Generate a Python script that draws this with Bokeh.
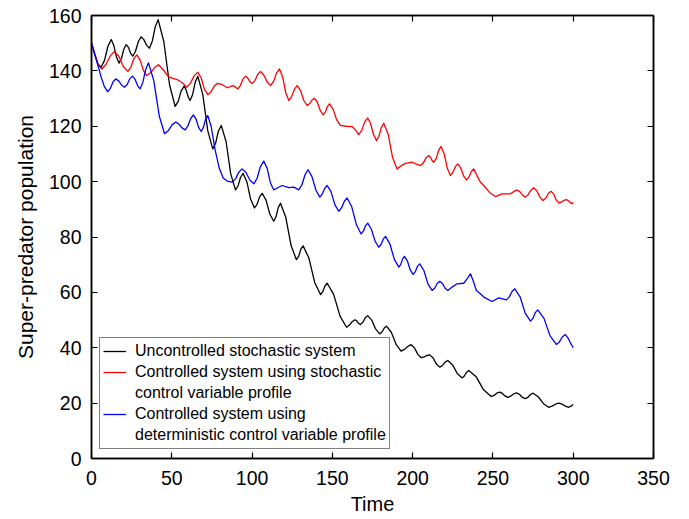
from bokeh.plotting import figure
from bokeh.models import Range1d, LinearAxis, Legend, LegendItem, FixedTicker, ColumnDataSource
from bokeh.embed import file_html
from bokeh.resources import INLINE

# Super-predator population over time for the three simulated systems
uncontrolled_t = [0, 2, 4, 6, 8.1, 10.2, 12.3, 13.9, 15.6, 17.2, 18.7, 20.1, 21.6,
                  23, 24.3, 25.7, 27.4, 29.2, 30.9, 32.6, 34.4, 36.1, 37.9, 39.7, 41.5,
                  45, 48.6, 52.1, 54, 55.8, 57.7, 58.9, 60.2, 61.4, 63, 64.6, 66.2,
                  69.3, 72.4, 75.5, 77.3, 79, 80.8, 83.8, 86.7, 89.7, 91.3, 92.8, 94.4,
                  96.8, 99.1, 101.5, 103.1, 104.7, 106.3, 108.7, 111.1, 113.5, 114.9, 116.3, 117.7,
                  121, 124.3, 127.6, 129, 130.4, 131.8, 135.4, 139, 142.6, 144, 145.4, 146.8,
                  150.8, 154.8, 158.8, 160.5, 162.3, 164, 165.2, 166.3, 167.5, 169, 170.5, 172,
                  174.5, 177, 179.5, 180.9, 182.3, 183.7, 186.7, 189.8, 192.8, 194.9, 197, 199.1,
                  201.2, 203.2, 205.3, 207.1, 208.9, 210.7, 212.8, 214.8, 216.9, 218.6, 220.2, 221.9,
                  224.9, 227.8, 230.8, 232.2, 233.5, 234.9, 239.6, 244.2, 248.9, 250.7, 252.4, 254.2,
                  255.9, 257.5, 259.2, 261, 262.8, 264.6, 266.5, 268.3, 270.2, 271.8, 273.4, 275,
                  278.2, 281.5, 284.7, 286.8, 288.9, 291, 293.1, 295.1, 297.2, 298.6, 300]
uncontrolled_v = [150, 146, 142.5, 141.3, 143.8, 148.8, 151.3, 149.2, 144.9, 142.8, 144.5, 147.8, 149.5,
                  148.5, 146.4, 145.3, 147.1, 150.6, 152.3, 151.3, 149.2, 148.2, 150.8, 155.9, 158.5,
                  150.7, 135, 127.2, 129, 132.7, 134.5, 133.2, 130.6, 129.3, 131.5, 135.9, 138.1,
                  131.5, 118.4, 111.8, 113.9, 118.2, 120.3, 114.5, 102.8, 97, 98.5, 101.5, 103,
                  99.9, 93.6, 90.5, 91.8, 94.5, 95.8, 93.3, 88.2, 85.7, 87.3, 90.6, 92.2,
                  87.1, 76.9, 71.8, 73, 75.6, 76.8, 72.4, 63.6, 59.2, 60.2, 62.3, 63.3,
                  59.3, 51.4, 47.4, 48.1, 49.4, 50.1, 49.7, 48.8, 48.4, 49.2, 50.8, 51.6,
                  50, 46.7, 45, 45.7, 47.1, 47.8, 45.6, 41.1, 38.8, 39.4, 40.5, 41.1,
                  39.9, 37.6, 36.4, 36.7, 37.2, 37.4, 36.3, 34.1, 33, 33.6, 34.8, 35.4,
                  33.8, 30.7, 29.1, 29.8, 31.1, 31.8, 29.5, 24.8, 22.4, 22.8, 23.6, 24,
                  23.5, 22.6, 22.1, 22.5, 23.3, 23.7, 23.2, 22.1, 21.6, 22.1, 23.1, 23.6,
                  22.3, 19.8, 18.5, 18.9, 19.6, 20, 19.6, 18.9, 18.5, 18.9, 19.5]

stochastic_t = [0, 2.1, 4.3, 6.4, 9, 11.7, 14.3, 17.1, 19.8, 22.6, 24.5, 26.3, 28.2,
                30.3, 32.3, 34.4, 36.8, 39.3, 41.7, 44.5, 47.9, 51, 53.5, 56.1, 59.3,
                61.6, 63.9, 66.2, 68.3, 70.3, 72.4, 74.4, 76.5, 78.5, 81.5, 84.5, 88.2, 91.1,
                92.7, 94.3, 95.9, 97.3, 98.7, 100.1, 101.8, 103.5, 105.2, 107.3, 109.4, 111.5,
                113.4, 115.2, 117.1, 119, 121, 122.9, 124.6, 126.4, 128.1, 130.2, 132.2, 134.3,
                135.8, 137.4, 138.9, 140.7, 142.5, 144.3, 145.6, 146.9, 148.2,
                150.5, 152.7, 155, 158.5, 162.3, 164.5, 166.4, 168.3, 170.1, 172,
                173.8, 175.7, 177.5, 179, 180.5, 182, 184.8, 187.5, 190.3,
                193, 195.5, 199.7, 202.3, 204.9, 206.6, 208.3, 210, 211.1, 212.1, 213.2,
                214.7, 216.2, 217.7, 219.6, 221.6, 223.5, 225, 226.6, 228.1, 229.9, 231.7, 233.5,
                235, 236.5, 238, 240.2, 242.2, 244.3, 248, 251.6, 255.7, 260.9, 263, 265,
                266.7, 268.5, 270.2, 271.9, 273.7, 275.4, 277.3, 279.3, 281.2, 282.9, 284.5, 286.2,
                287.8, 289.4, 291, 292.6, 294.2, 295.8, 297, 298.2, 299.3, 300]
stochastic_v = [150, 146, 142, 140.7, 142.3, 145.4, 147, 145.2, 141.6, 139.8, 141.3, 144.3, 145.8,
                143.9, 140.2, 138.3, 139.3, 141.2, 142.2, 140.5, 137.9, 137.2, 136.8, 135.9, 134.1,
                135.5, 138.2, 139.5, 137.5, 133.4, 131.4, 132.4, 134.5, 135.5, 135, 133.9, 134.7, 133.5,
                134.7, 137, 138.1, 137.4, 136.1, 135.4, 136.5, 138.7, 139.8, 138.5, 136, 134.7,
                136.2, 139.2, 140.7, 137.9, 132.1, 129.3, 130.7, 133.4, 134.7, 132.9, 129.3, 127.5,
                128.2, 129.5, 130.1, 128.6, 125.6, 124.1, 125.1, 127.1, 128.1,
                126.1, 122.3, 120.3, 120, 119.9, 118.6, 117, 118.5, 121.5, 123,
                121, 116.9, 114.8, 116.4, 119.5, 121.1, 117, 108.7, 104.6,
                105.8, 106.6, 107, 106.3, 105.8, 106.7, 108.5, 109.4, 108.8, 107.6, 107,
                108.4, 111.3, 112.7, 110.1, 104.8, 102.2, 103.3, 105.4, 106.4, 105, 102.1, 100.6,
                101.6, 103.6, 104.6, 102, 99.8, 98.6, 96, 94.6, 95.6, 95.6, 96.4, 97,
                96.4, 95.1, 94.4, 95.3, 96.9, 97.8, 96.7, 94.4, 93.2, 94, 95.7, 96.5,
                95.5, 93.4, 92.3, 92.6, 93.2, 93.5, 93.1, 92.4, 92, 92.5]

deterministic_t = [0, 2, 4, 6, 8, 10.1, 11.8, 13.4, 15.1, 16.9, 18.7, 20.5,
                   22.2, 23.8, 25.5, 27.1, 28.7, 30.3, 32, 33.8, 35.5, 38.8, 42.2, 45.5,
                   47.8, 50.2, 52.5, 54.4, 56.4, 58.3, 60, 61.8, 63.5, 65.1, 66.7, 68.3,
                   69.7, 71, 72.4, 74.5, 77, 79.5, 82, 84.5, 87.6, 89.7, 91.7, 93.8,
                   96.2, 98.7, 101.1, 103.2, 105.2, 107.3, 109.4, 111.4, 113.5,
                   116, 118.7, 122.9, 126, 129.1, 131, 133, 134.9, 137.3, 139.8, 142.2,
                   143.7, 145.3, 146.8, 149.2, 151.6, 154, 155.7, 157.5, 159.2, 162.1, 165, 167.9,
                   169.3, 170.6, 172, 174.3, 176.6, 178.9, 180.3, 181.7, 183.1, 185.9, 188.6, 191.4,
                   192.6, 193.7, 194.9, 196.7, 198.5, 200.3, 201.7, 203, 204.4, 207, 209.5, 212.1,
                   213.7, 215.3, 216.9, 218.6, 220.2, 221.9, 224.8, 227.7, 231.8, 234, 236,
                   237.8, 239.7, 242.2, 244.3, 249.5, 253.6, 258.4, 260.1, 261.9, 263.6,
                   266.9, 270.1, 273.4, 274.9, 276.4, 277.9, 281.8, 285.6, 289.5,
                   291.4, 293.2, 295.1, 296.7, 298.4, 300]
deterministic_v = [150, 146, 142, 137.8, 134.3, 132.5, 133.7, 136, 137.1, 136.4, 134.9, 134.1,
                   135.1, 137.1, 138.1, 137, 134.7, 133.5, 135.9, 140.6, 142.9, 136.5, 123.7, 117.3,
                   118.4, 120.5, 121.5, 120.8, 119.4, 118.7, 120.1, 122.8, 124.1, 122.6, 119.6, 118.1,
                   119.6, 122.5, 123.9, 120, 111.5, 105, 101.3, 100.2, 99.8, 101, 103.4, 104.6,
                   103.3, 100.5, 99.2, 101.3, 105.4, 107.4, 104.8, 99.6, 97,
                   97.8, 98.6, 97.8, 98, 97, 98.8, 102.5, 104.3, 101.8, 96.9, 94.4,
                   95.5, 97.6, 98.6, 96.3, 91.6, 89.3, 90.5, 92.9, 94.1, 90.9, 84.4, 81.1,
                   82.1, 84, 85, 82.8, 78.5, 76.3, 77.3, 79.2, 80.2, 77.4, 71.9, 69.1,
                   70.1, 72, 73, 71.4, 68.1, 66.5, 67.5, 69.4, 70.3, 67.9, 63.1, 60.7,
                   61.5, 63.2, 64, 63.2, 61.5, 60.7, 62, 63.1, 63.3, 65, 66.7,
                   64, 60.7, 59.5, 58.3, 56.7, 58, 57.3, 58.3, 60.3, 61.3,
                   58.4, 52.5, 49.6, 50.6, 52.7, 53.7, 50.6, 44.3, 41.2,
                   42.1, 43.9, 44.8, 43.6, 41.6, 40]

# Legend text, one entry per printed line; continuation lines carry no sample
legend_lines = [("Uncontrolled stochastic system", 0),
                ("Controlled system using stochastic", 1),
                ("control variable profile", None),
                ("Controlled system using", 2),
                ("deterministic control variable profile", None)]
series_colors = ["#000000", "#ff0000", "#0000ff"]

x_ticks = [0, 50, 100, 150, 200, 250, 300, 350]
y_ticks = [0, 20, 40, 60, 80, 100, 120, 140, 160]

FONT = "Liberation Sans"

p = figure(width=689, height=519, output_backend="svg", toolbar_location=None,
           x_range=Range1d(0, 350), y_range=Range1d(0, 160),
           min_border_left=91, min_border_right=36, min_border_top=15, min_border_bottom=61,
           background_fill_color="white", border_fill_color="white")
p.grid.visible = False
p.outline_line_color = "black"
p.outline_line_width = 1.5

renderers = []
for t, v, c in [(uncontrolled_t, uncontrolled_v, series_colors[0]),
                (stochastic_t, stochastic_v, series_colors[1]),
                (deterministic_t, deterministic_v, series_colors[2])]:
    src = ColumnDataSource(dict(t=t, v=v))
    renderers.append(p.line("t", "v", source=src, line_color=c, line_width=1.3,
                            line_join="round"))

# invisible stand-in used for the legend's continuation lines
blank = p.line(x=[], y=[], line_alpha=0)


def style_axis(ax, show_labels):
    ax.axis_line_color = "black"
    ax.axis_line_width = 1.5
    ax.major_tick_in = 6
    ax.major_tick_out = 0
    ax.major_tick_line_width = 1.2
    ax.minor_tick_line_color = None
    ax.major_label_text_font = FONT
    if show_labels:
        ax.major_label_text_font_size = "19.5px"
        ax.major_label_text_color = "black"
    else:
        ax.major_label_text_font_size = "1px"
        ax.major_label_text_color = None
        ax.major_label_text_alpha = 0
        ax.major_label_standoff = 0


p.xaxis.ticker = FixedTicker(ticks=x_ticks)
p.yaxis.ticker = FixedTicker(ticks=y_ticks)
style_axis(p.xaxis[0], True)
style_axis(p.yaxis[0], True)
p.xaxis.major_label_standoff = 12
p.yaxis.major_label_standoff = 10

p.xaxis.axis_label = "Time"
p.yaxis.axis_label = "Super-predator population"
for ax in (p.xaxis[0], p.yaxis[0]):
    ax.axis_label_text_font = FONT
    ax.axis_label_text_font_style = "normal"
    ax.axis_label_text_color = "black"
p.xaxis.axis_label_text_font_size = "20px"
p.yaxis.axis_label_text_font_size = "21px"
p.xaxis.axis_label_standoff = 5
p.yaxis.axis_label_standoff = 9

top_axis = LinearAxis(ticker=FixedTicker(ticks=x_ticks))
right_axis = LinearAxis(ticker=FixedTicker(ticks=y_ticks))
style_axis(top_axis, False)
style_axis(right_axis, False)
p.add_layout(top_axis, "above")
p.add_layout(right_axis, "right")

items = [LegendItem(label=text, renderers=[renderers[i] if i is not None else blank])
         for text, i in legend_lines]
legend = Legend(items=items, location=(8, 9), orientation="vertical",
                label_text_font=FONT, label_text_font_size="16px", label_text_color="black",
                glyph_width=23, glyph_height=20, label_height=20, label_standoff=9,
                padding=3, spacing=1, margin=0,
                border_line_color="black", border_line_width=1.2,
                background_fill_color="white", background_fill_alpha=1.0)
p.add_layout(legend, "center")

open("out.html", "w").write(file_html(p, INLINE))
